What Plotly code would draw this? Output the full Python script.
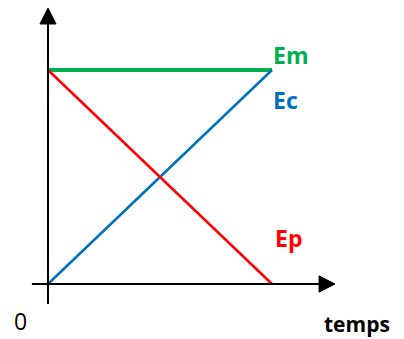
import plotly.graph_objects as go

# time axis (normalised) and the three energies
temps = [0, 1]
em = [1, 1]
ec = [0, 1]
ep = [1, 0]

GREEN = "#00B050"
BLUE = "#0070C0"
RED = "#FF0000"

W, H = 404, 339

fig = go.Figure()
fig.add_trace(go.Scatter(x=temps, y=em, mode="lines", line=dict(color=GREEN, width=4), name="Em"))
fig.add_trace(go.Scatter(x=temps, y=ec, mode="lines", line=dict(color=BLUE, width=2.5), name="Ec"))
fig.add_trace(go.Scatter(x=temps, y=ep, mode="lines", line=dict(color=RED, width=2.5), name="Ep"))

# axes with arrow heads (drawn as shapes)
fig.add_shape(type="line", x0=-0.072, y0=0, x1=1.22, y1=0, line=dict(color="black", width=2))
fig.add_shape(type="path", path="M 1.21 -0.038 L 1.281 0 L 1.21 0.038 Z",
              fillcolor="black", line=dict(color="black", width=1))
fig.add_shape(type="line", x0=0, y0=-0.093, x1=0, y1=1.22, line=dict(color="black", width=2))
fig.add_shape(type="path", path="M -0.036 1.215 L 0 1.29 L 0.036 1.215 Z",
              fillcolor="black", line=dict(color="black", width=1))

def label(text, px, py, color, size, bold=True, xanchor="left"):
    fig.add_annotation(
        x=px / W, y=1 - py / H, xref="paper", yref="paper",
        text=f"<b>{text}</b>" if bold else text, showarrow=False,
        xanchor=xanchor, yanchor="middle",
        font=dict(family="Open Sans", size=size, color=color),
    )

label("Em", 271, 55, GREEN, 23)
label("Ec", 271, 100, BLUE, 23)
label("Ep", 273, 238, RED, 23)
label("0", 12, 321, "black", 23, bold=False)
label("temps", 322, 324, "black", 21)

fig.update_layout(
    width=W, height=H,
    margin=dict(l=0, r=0, t=0, b=0),
    paper_bgcolor="white", plot_bgcolor="white",
    showlegend=False,
    xaxis=dict(range=[-48 / 224, (W - 48) / 224], visible=False, fixedrange=True),
    yaxis=dict(range=[-(H - 284) / 214, 1 + 70 / 214], visible=False, fixedrange=True),
)

# drop the default body margin so the figure fills the window
fig.write_html("out.html", config={"displayModeBar": False},
               post_script="document.body.style.margin = '0';")
